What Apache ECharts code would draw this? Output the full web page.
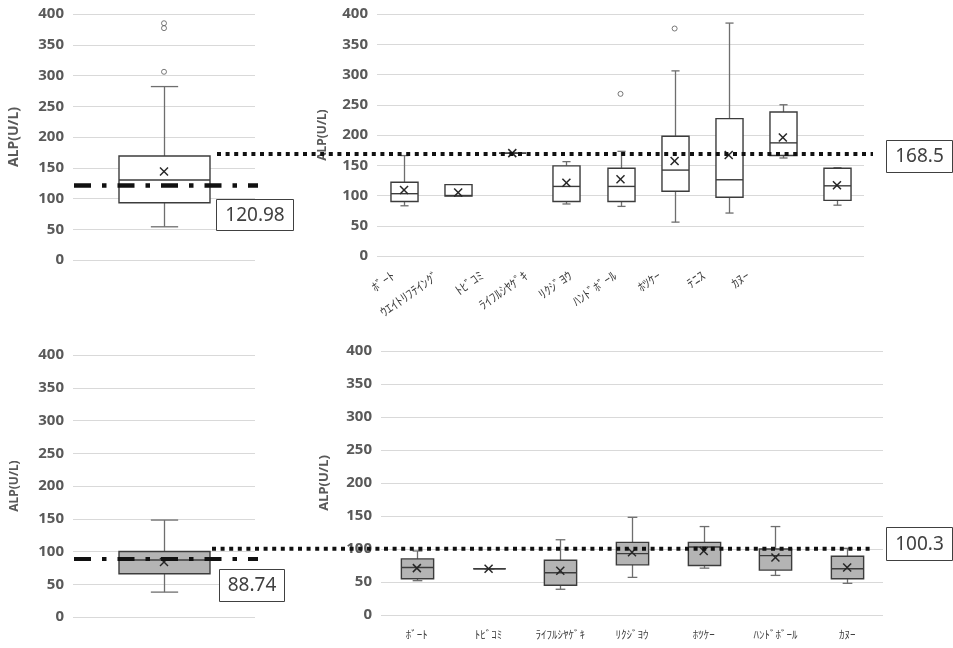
<!DOCTYPE html>
<html>
<head>
<meta charset="utf-8">
<style>
  html, body { margin: 0; padding: 0; background: #ffffff; }
  #chart { width: 953px; height: 648px; }
</style>
<script src="https://cdn.jsdelivr.net/npm/echarts@6/dist/echarts.min.js"></script>
</head>
<body>
<div id="chart"></div>
<script>
// ---- ALP (U/L) by sport: upper row and lower row ----

// Upper row, all athletes pooled
const topAllStats = [54, 93, 130, 169, 282, 144];      // min, Q1, median, Q3, max, mean
const topAllOutliers = [385, 377, 306];

// Upper row, by sport
const topCats = ['ﾎﾞｰﾄ', 'ｳｴｲﾄﾘﾌﾃｲﾝｸﾞ', 'ﾄﾋﾞｺﾐ', 'ﾗｲﾌﾙｼﾔｹﾞｷ', 'ﾘｸｼﾞﾖｳ', 'ﾊﾝﾄﾞﾎﾞｰﾙ', 'ﾎﾂｹｰ', 'ﾃﾆｽ', 'ｶﾇｰ'];
const topMin    = [83, 99, 170, 86, 82, 56, 71, 162, 84];
const topQ1     = [90, 99, 170, 90, 90, 107, 97, 166, 92];
const topMedian = [103, 100, 170, 115, 115, 142, 126, 187, 116];
const topQ3     = [122, 118, 170, 149, 145, 198, 227, 238, 145];
const topMax    = [166, 118, 170, 156, 173, 306, 385, 250, 146];
const topMean   = [109, 105, 170, 121, 127, 157, 167, 196, 117];
const topOutlierCat = [4, 5];
const topOutlierVal = [268, 376];

// Lower row, all athletes pooled
const bottomAllStats = [38, 66, 87, 100, 148, 84];

// Lower row, by sport
const bottomCats = ['ﾎﾞｰﾄ', 'ﾄﾋﾞｺﾐ', 'ﾗｲﾌﾙｼﾔｹﾞｷ', 'ﾘｸｼﾞﾖｳ', 'ﾎﾂｹｰ', 'ﾊﾝﾄﾞﾎﾞｰﾙ', 'ｶﾇｰ'];
const bottomMin    = [52, 70, 39, 57, 71, 60, 48];
const bottomQ1     = [55, 70, 45, 76, 75, 68, 55];
const bottomMedian = [72, 70, 64, 93, 103, 90, 70];
const bottomQ3     = [85, 70, 83, 110, 110, 100, 89];
const bottomMax    = [97, 70, 114, 148, 134, 134, 101];
const bottomMean   = [71, 70, 67, 95, 97, 87, 72];

// Reference values shown in the boxed labels
const topAllRef = 120.98;
const topSportRef = 168.5;
const bottomAllRef = 88.74;
const bottomSportRef = 100.3;

const yTicks = [0, 50, 100, 150, 200, 250, 300, 350, 400];
const yTitle = 'ALP(U/L)';

// ---- build option ----
function statRows(minA, q1A, medA, q3A, maxA, meanA) {
  return minA.map((_, i) => [i, minA[i], q1A[i], medA[i], q3A[i], maxA[i], meanA[i]]);
}

function boxRenderer(fillColor, ratio) {
  return function (params, api) {
    const c = api.value(0);
    const band = api.size([1, 0])[0];
    const hw = band * ratio / 2;
    const cap = hw * 0.3;
    const pMin = api.coord([c, api.value(1)]);
    const pQ1 = api.coord([c, api.value(2)]);
    const pMed = api.coord([c, api.value(3)]);
    const pQ3 = api.coord([c, api.value(4)]);
    const pMax = api.coord([c, api.value(5)]);
    const pMean = api.coord([c, api.value(6)]);
    const x = Math.round(pMed[0]) + 0.5;
    const wStyle = { stroke: '#6e6e6e', lineWidth: 1.3 };
    const bStyle = { stroke: '#3c3c3c', lineWidth: 1.4 };
    const m = 4;
    return {
      type: 'group',
      children: [
        { type: 'line', shape: { x1: x, y1: pQ3[1], x2: x, y2: pMax[1] }, style: wStyle },
        { type: 'line', shape: { x1: x, y1: pQ1[1], x2: x, y2: pMin[1] }, style: wStyle },
        { type: 'line', shape: { x1: x - cap, y1: pMax[1], x2: x + cap, y2: pMax[1] }, style: wStyle },
        { type: 'line', shape: { x1: x - cap, y1: pMin[1], x2: x + cap, y2: pMin[1] }, style: wStyle },
        { type: 'rect', shape: { x: x - hw, y: pQ3[1], width: 2 * hw, height: pQ1[1] - pQ3[1] },
          style: { fill: fillColor, stroke: '#3c3c3c', lineWidth: 1.4 } },
        { type: 'line', shape: { x1: x - hw, y1: pMed[1], x2: x + hw, y2: pMed[1] }, style: bStyle },
        { type: 'line', shape: { x1: pMean[0] - m, y1: pMean[1] - m, x2: pMean[0] + m, y2: pMean[1] + m },
          style: { stroke: '#262626', lineWidth: 1.5 } },
        { type: 'line', shape: { x1: pMean[0] - m, y1: pMean[1] + m, x2: pMean[0] + m, y2: pMean[1] - m },
          style: { stroke: '#262626', lineWidth: 1.5 } }
      ]
    };
  };
}

const FONT = "'Noto Sans', 'Noto Sans CJK JP', sans-serif";
const JP = "'Noto Sans CJK JP', sans-serif";

function valueAxis(gridIndex, opts) {
  opts = opts || {};
  return {
    type: 'value', gridIndex: gridIndex, min: 0, max: 400, interval: 50,
    show: opts.show !== false,
    name: opts.name || '', nameLocation: 'middle', nameRotate: 90, nameGap: opts.nameGap || 50,
    nameTextStyle: { color: '#595959', fontSize: opts.nameSize || 13, fontWeight: 'bold', fontFamily: FONT },
    axisLine: { show: false }, axisTick: { show: false },
    axisLabel: { color: '#595959', fontSize: 15, fontWeight: 'bold', fontFamily: FONT, margin: 9 },
    splitLine: { lineStyle: { color: '#d9d9d9', width: 1 } }
  };
}

function catAxis(gridIndex, data, label) {
  return {
    type: 'category', gridIndex: gridIndex, data: data,
    axisLine: { show: false }, axisTick: { show: false },
    axisLabel: label ? label : { show: false },
    splitLine: { show: false }
  };
}

const option = {
  animation: false,
  backgroundColor: '#ffffff',
  grid: [
    { left: 73, top: 14, width: 182, height: 246, outerBoundsMode: 'none' },
    { left: 377, top: 14, width: 487, height: 242, outerBoundsMode: 'none' },
    { left: 371, top: 14, width: 399, height: 242, outerBoundsMode: 'none' },
    { left: 73, top: 355, width: 182, height: 262, outerBoundsMode: 'none' },
    { left: 381, top: 351, width: 502, height: 264, outerBoundsMode: 'none' }
  ],
  xAxis: [
    catAxis(0, ['']),
    catAxis(1, topCats),
    catAxis(2, topCats, { rotate: 35, margin: 18, fontSize: 12.5, color: '#404040', fontFamily: JP, interval: 0 }),
    catAxis(3, ['']),
    catAxis(4, bottomCats, { margin: 14, fontSize: 11, color: '#404040', fontFamily: JP, interval: 0 })
  ],
  yAxis: [
    valueAxis(0, { name: yTitle, nameGap: 52, nameSize: 14 }),
    valueAxis(1, { name: yTitle, nameGap: 48, nameSize: 12 }),
    valueAxis(2, { show: false }),
    valueAxis(3, { name: yTitle, nameGap: 52, nameSize: 12 }),
    valueAxis(4, { name: yTitle, nameGap: 50, nameSize: 13 })
  ],
  series: [
    {
      type: 'custom', xAxisIndex: 0, yAxisIndex: 0, z: 3,
      renderItem: boxRenderer('#ffffff', 0.5),
      encode: { x: 0, y: [1, 2, 3, 4, 5, 6] },
      data: [[0].concat(topAllStats)]
    },
    {
      type: 'scatter', xAxisIndex: 0, yAxisIndex: 0, symbol: 'circle', symbolSize: 5,
      itemStyle: { color: '#ffffff', borderColor: '#595959', borderWidth: 1 },
      data: topAllOutliers.map(v => [0, v])
    },
    {
      type: 'custom', xAxisIndex: 1, yAxisIndex: 1, z: 3,
      renderItem: boxRenderer('#ffffff', 0.5),
      encode: { x: 0, y: [1, 2, 3, 4, 5, 6] },
      data: statRows(topMin, topQ1, topMedian, topQ3, topMax, topMean)
    },
    {
      type: 'scatter', xAxisIndex: 1, yAxisIndex: 1, symbol: 'circle', symbolSize: 5,
      itemStyle: { color: '#ffffff', borderColor: '#595959', borderWidth: 1 },
      data: topOutlierCat.map((c, i) => [c, topOutlierVal[i]])
    },
    {
      type: 'custom', xAxisIndex: 3, yAxisIndex: 3, z: 3,
      renderItem: boxRenderer('#b4b4b4', 0.5),
      encode: { x: 0, y: [1, 2, 3, 4, 5, 6] },
      data: [[0].concat(bottomAllStats)]
    },
    {
      type: 'custom', xAxisIndex: 4, yAxisIndex: 4, z: 3,
      renderItem: boxRenderer('#b4b4b4', 0.45),
      encode: { x: 0, y: [1, 2, 3, 4, 5, 6] },
      data: statRows(bottomMin, bottomQ1, bottomMedian, bottomQ3, bottomMax, bottomMean)
    }
  ]
};

const chart = echarts.init(document.getElementById('chart'), null, { renderer: 'canvas' });
chart.setOption(option);

// ---- reference lines and their value boxes ----
function refLine(x1, x2, y, dash, width) {
  return {
    type: 'line', z: 100, silent: true,
    shape: { x1: x1, y1: y, x2: x2, y2: y },
    style: { stroke: '#111111', lineWidth: width, lineDash: dash }
  };
}
function valueBox(x, y, w, h, text) {
  return {
    type: 'group', z: 100, x: x, y: y,
    children: [
      { type: 'rect', shape: { x: 0.5, y: 0.5, width: w, height: h },
        style: { fill: '#ffffff', stroke: '#404040', lineWidth: 1 } },
      { type: 'text', x: w / 2 + 0.5, y: h / 2 + 1,
        style: { text: text, fill: '#404040', fontSize: 19, fontFamily: FONT,
                 align: 'center', verticalAlign: 'middle' } }
    ]
  };
}

const yTopAll = chart.convertToPixel({ yAxisIndex: 0 }, topAllRef);
const yTopSport = chart.convertToPixel({ yAxisIndex: 1 }, topSportRef);
const yBottomAll = chart.convertToPixel({ yAxisIndex: 3 }, bottomAllRef);
const yBottomSport = chart.convertToPixel({ yAxisIndex: 4 }, bottomSportRef);

chart.setOption({
  graphic: [
    refLine(217, 873, yTopSport, [4, 4.6], 4),
    refLine(74, 258, yTopAll, [17, 11, 4.5, 11], 4.5),
    refLine(212, 873, yBottomSport, [4, 4.6], 4),
    refLine(74, 258, yBottomAll, [17, 11, 4.5, 11], 4),
    valueBox(216, 199, 77, 31, String(topAllRef)),
    valueBox(886, 140, 66, 32, String(topSportRef)),
    valueBox(219, 569, 65, 32, String(bottomAllRef)),
    valueBox(886, 527, 66, 33, String(bottomSportRef))
  ]
});
</script>
</body>
</html>
